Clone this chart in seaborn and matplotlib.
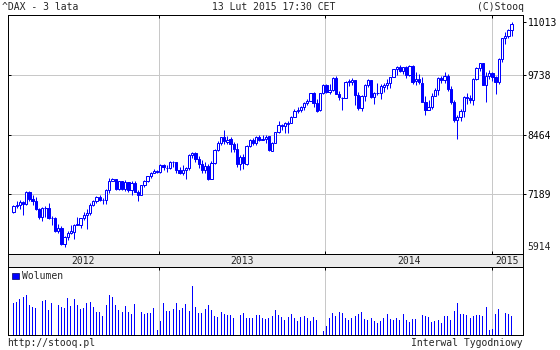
import numpy as np
import pandas as pd
import matplotlib
matplotlib.use("Agg")
import matplotlib.pyplot as plt
import matplotlib.dates as mdates
from matplotlib.patches import Patch
import seaborn as sns

# ---------------- data (weekly DAX, 3 years) ----------------
week_start = "2012-02-17"
week_end = "2015-02-13"

opens = [6700, 6850, 6860, 6920, 6880, 7160, 7000, 6950, 6770, 6580,
         6790, 6800, 6560, 6570, 6270, 6340, 5970, 6130, 6230, 6260,
         6420, 6410, 6560, 6630, 6690, 6870, 6950, 7040, 6975, 6970,
         7210, 7410, 7450, 7220, 7400, 7230, 7380, 7200, 7360, 7160,
         7100, 7310, 7400, 7520, 7600, 7640,
         7610, 7780, 7710, 7700, 7840, 7830, 7650, 7590, 7660, 7710,
         8000, 8040, 7910, 7790, 7660, 7740, 7460, 7810, 8120, 8280,
         8400, 8300, 8350, 8250, 8130, 7790, 7960, 7800, 8210, 8330,
         8280, 8410, 8340, 8370, 8420, 8100, 8280, 8510, 8680, 8660,
         8700, 8730, 8870, 9000, 9010, 9080, 9170, 9230, 9400, 9170,
         9010, 9400,
         9590, 9430, 9470, 9740, 9390, 9290, 9300, 9660, 9660, 9690,
         9350, 9060, 9340, 9590, 9690, 9310, 9410, 9400, 9550, 9580,
         9630, 9770, 9940, 9990, 9910, 9990, 9810, 10010, 9670, 9720,
         9640, 9210, 9010, 9090, 9340, 9470, 9750, 9690, 9800, 9490,
         9190, 8790, 8850, 8990, 9320, 9290, 9250, 9730, 9980, 10080,
         9590, 9790, 9860, 9760, 9650, 10170, 10650, 10690, 10840]

highs = [6860, 6960, 6980, 6950, 7190, 7190, 7080, 7050, 6800, 6810,
         6830, 6900, 6620, 6600, 6440, 6390, 6160, 6280, 6400, 6440,
         6580, 6560, 6700, 6780, 6900, 6980, 7060, 7080, 7020, 7230,
         7480, 7480, 7460, 7400, 7410, 7430, 7390, 7400, 7400, 7200,
         7320, 7430, 7530, 7620, 7680, 7660,
         7800, 7790, 7760, 7860, 7870, 7840, 7720, 7780, 7720, 8020,
         8070, 8060, 7970, 7880, 7830, 7790, 7860, 8140, 8320, 8410,
         8560, 8440, 8400, 8300, 8260, 8000, 8020, 8230, 8360, 8380,
         8430, 8460, 8460, 8450, 8440, 8300, 8510, 8770, 8700, 8740,
         8770, 8880, 9040, 9080, 9120, 9200, 9260, 9410, 9430, 9270,
         9400, 9600,
         9620, 9620, 9760, 9800, 9460, 9310, 9670, 9720, 9740, 9700,
         9420, 9370, 9600, 9720, 9700, 9420, 9630, 9620, 9640, 9720,
         9770, 9950, 10010, 10050, 10000, 10010, 10050, 10030, 9890, 9840,
         9780, 9330, 9250, 9400, 9510, 9760, 9800, 9890, 9830, 9560,
         9240, 8900, 9050, 9340, 9400, 9350, 9740, 10000, 10090, 10090,
         9880, 9930, 9880, 9800, 10200, 10650, 10800, 10850, 11013]

lows = [6680, 6800, 6770, 6630, 6870, 6950, 6860, 6740, 6550, 6500,
        6580, 6540, 6400, 6250, 6220, 5950, 5914, 6070, 6210, 6100,
        6400, 6350, 6520, 6320, 6630, 6850, 6900, 6960, 6890, 6890,
        7140, 7400, 7210, 7200, 7210, 7180, 7150, 7080, 7150, 6950,
        7090, 7270, 7380, 7470, 7580, 7580,
        7600, 7650, 7620, 7680, 7720, 7580, 7560, 7540, 7450, 7660,
        7940, 7830, 7710, 7580, 7590, 7420, 7460, 7800, 8080, 8230,
        8250, 8240, 8060, 8060, 7730, 7650, 7690, 7780, 8190, 8230,
        8220, 8310, 8330, 8270, 8090, 8080, 8260, 8500, 8570, 8500,
        8500, 8720, 8860, 8950, 8970, 9020, 9140, 9220, 9080, 8970,
        8990, 9390,
        9400, 9380, 9460, 9380, 9250, 9020, 9290, 9560, 9580, 9140,
        9020, 9000, 9220, 9550, 9300, 9160, 9360, 9280, 9420, 9500,
        9520, 9760, 9810, 9890, 9830, 9740, 9800, 9610, 9580, 9600,
        9190, 8900, 9010, 9050, 9330, 9370, 9640, 9640, 9450, 9150,
        8750, 8350, 8780, 8860, 9150, 9170, 9140, 9710, 9900, 9580,
        9210, 9720, 9680, 9380, 9600, 10100, 10520, 10650, 10700]

closes = [6848, 6864, 6921, 6880, 7157, 6996, 6947, 6775, 6583, 6801,
          6801, 6561, 6579, 6271, 6339, 5978, 6130, 6229, 6263, 6416,
          6410, 6557, 6630, 6689, 6865, 6945, 7040, 6971, 6970, 7214,
          7412, 7451, 7216, 7398, 7232, 7380, 7203, 7363, 7163, 7101,
          7309, 7405, 7518, 7596, 7636, 7612,
          7776, 7715, 7702, 7833, 7833, 7652, 7593, 7661, 7708, 8003,
          8043, 7912, 7795, 7658, 7744, 7459, 7815, 8122, 8278, 8399,
          8305, 8348, 8254, 8127, 7789, 7959, 7806, 8212, 8331, 8276,
          8410, 8338, 8367, 8416, 8103, 8276, 8510, 8676, 8661, 8725,
          8725, 8868, 9001, 9010, 9078, 9168, 9225, 9405, 9172, 9006,
          9400, 9589,
          9435, 9473, 9742, 9392, 9306, 9301, 9662, 9657, 9692, 9350,
          9056, 9343, 9588, 9695, 9315, 9409, 9401, 9556, 9581, 9630,
          9768, 9943, 9987, 9912, 9987, 9815, 10009, 9666, 9720, 9644,
          9210, 9009, 9092, 9339, 9470, 9747, 9691, 9799, 9490, 9195,
          8788, 8850, 8988, 9326, 9291, 9252, 9732, 9980, 10087, 9594,
          9787, 9865, 9765, 9648, 10167, 10649, 10694, 10846, 10963]

volumes = [320, 333, 363, 380, 403, 300, 280, 273, 290, 340,
           347, 250, 320, 330, 300, 283, 273, 370, 293, 360,
           300, 263, 273, 323, 330, 280, 230, 230, 190, 300,
           403, 380, 300, 247, 227, 290, 233, 213, 313, 320,
           230, 213, 217, 223, 267, 50,
           140, 320, 240, 240, 257, 323, 250, 267, 313, 240,
           490, 283, 220, 220, 257, 303, 253, 190, 183, 230,
           213, 197, 197, 173, 247, 200, 220, 170, 170, 170,
           200, 200, 170, 157, 173, 193, 250, 200, 180, 147,
           180, 213, 173, 140, 180, 193, 173, 140, 180, 147,
           213, 40,
           90, 173, 220, 193, 230, 220, 173, 147, 170, 193,
           213, 233, 160, 147, 170, 140, 120, 140, 173, 213,
           157, 147, 173, 147, 213, 147, 130, 157, 157, 130,
           200, 193, 183, 130, 140, 153, 123, 193, 187, 153,
           240, 323, 213, 213, 203, 173, 193, 203, 203, 193,
           283, 50, 63, 213, 263, 250, 223, 207, 193]

year_starts = ["2013-01-01", "2014-01-01", "2015-01-01"]
year_labels = ["2012", "2013", "2014", "2015"]

title_left = "^DAX - 3 lata"
title_mid = "13 Lut 2015 17:30 CET"
title_right = "(C)Stooq"
footer_left = "http://stooq.pl"
footer_right = "Interwal Tygodniowy"
vol_label = "Wolumen"

# ---------------- style ----------------
sns.set_style("white")
plt.rcParams['font.family'] = ['DejaVu Sans Mono', 'DejaVu Sans']
BLUE = "#0000ff"
GRID = "#c8c8c8"
LW = 0.72
FS = 7

dates = pd.date_range(week_start, week_end, freq="W-FRI")
x = mdates.date2num(dates)
o = np.array(opens, float); h = np.array(highs, float)
l = np.array(lows, float); c = np.array(closes, float)
v = np.array(volumes, float)
yx = mdates.date2num(pd.to_datetime(year_starts))

W, H = 560, 350
fig = plt.figure(figsize=(W / 100, H / 100), dpi=100)
fig.patch.set_facecolor("white")

def box(x0, y0, x1, y1):
    return [x0 / W, 1 - y1 / H, (x1 - x0) / W, (y1 - y0) / H]

ax = fig.add_axes(box(8, 15, 523, 254))
band = fig.add_axes(box(8, 254, 523, 267))
axv = fig.add_axes(box(8, 267, 523, 335))

xlim = (x[0] - 12, x[-1] + 25)

# ---------------- price panel ----------------
lo, hi = l.min(), h.max()
rng = hi - lo
y0, y1 = lo - 0.032 * rng, hi + 0.032 * rng
ax.set_xlim(*xlim)
ax.set_ylim(y0, y1)

qs = [y0 + f * (y1 - y0) for f in (0.25, 0.5, 0.75)]
for q in qs:
    ax.axhline(q, color=GRID, lw=LW, zorder=1)
for yy in yx:
    ax.axvline(yy, color=GRID, lw=LW, zorder=1)

ax.vlines(x, l, h, color=BLUE, lw=LW, zorder=2)
up = c >= o
bot = np.minimum(o, c)
hgt = np.maximum(np.abs(c - o), 12)
ax.bar(x[up], hgt[up], bottom=bot[up], width=5.0, facecolor="white",
       edgecolor=BLUE, linewidth=LW, zorder=3)
ax.bar(x[~up], hgt[~up], bottom=bot[~up], width=5.0, facecolor=BLUE,
       edgecolor=BLUE, linewidth=LW, zorder=3)

labels_vals = np.linspace(lo, hi, 5)
ax.set_xticks([])
ax.yaxis.tick_right()
ax.set_yticks(qs + [hi])
ax.set_yticklabels([f"{np.round(t):.0f}" for t in labels_vals[1:4]] + [f"{hi:.0f}"])
ax.tick_params(axis="y", direction="out", length=2.2, width=LW, pad=1.2,
               labelsize=FS, colors="black")
ax.annotate(f"{lo:.0f}", xy=(1, lo), xycoords=ax.get_yaxis_transform(),
            xytext=(3.4, 0), textcoords="offset points", va="center",
            ha="left", fontsize=FS)
ax.hlines(qs, 0, 3 / 515, transform=ax.get_yaxis_transform(), color="black", lw=LW)
ax.vlines(yx, 0, 3 / 239, transform=ax.get_xaxis_transform(), color="black", lw=LW)
ax.vlines(yx, 1 - 3 / 239, 1, transform=ax.get_xaxis_transform(), color="black", lw=LW)
for s in ax.spines.values():
    s.set_color("black"); s.set_linewidth(LW)

# ---------------- year band ----------------
band.set_facecolor("#ebebeb")
band.set_xlim(*xlim); band.set_ylim(0, 1)
band.set_xticks([]); band.set_yticks([])
bounds = [xlim[0]] + list(yx) + [xlim[1]]
for i, lab in enumerate(year_labels):
    band.text((bounds[i] + bounds[i + 1]) / 2, 0.45, lab, ha="center",
              va="center", fontsize=FS)
for s in band.spines.values():
    s.set_color("black"); s.set_linewidth(LW)

# ---------------- volume panel ----------------
sns.barplot(x=x, y=v, native_scale=True, width=0.3, color=BLUE,
            saturation=1, errorbar=None, linewidth=0, ax=axv)
for p in axv.patches:
    p.set_antialiased(False)
axv.set_xlim(*xlim)
axv.set_ylim(0, 680)
for yy in yx:
    axv.axvline(yy, color=GRID, lw=LW, zorder=0)
axv.vlines(yx, 1 - 3 / 68, 1, transform=axv.get_xaxis_transform(), color="black", lw=LW)
axv.set_xticks([]); axv.set_yticks([])
axv.set_xlabel(""); axv.set_ylabel("")
for s in axv.spines.values():
    s.set_color("black"); s.set_linewidth(LW)
axv.legend(handles=[Patch(facecolor=BLUE, edgecolor="#000060", linewidth=0.5,
                          label=vol_label)],
           loc="upper left", frameon=False, fontsize=FS, handlelength=0.7,
           handleheight=0.7, handletextpad=0.3, borderaxespad=0.25,
           borderpad=0.2)

# ---------------- header / footer ----------------
fig.text(2 / W, 1 - 7 / H, title_left, ha="left", va="center", fontsize=FS)
fig.text(274 / W, 1 - 7 / H, title_mid, ha="center", va="center", fontsize=FS)
fig.text(524 / W, 1 - 7 / H, title_right, ha="right", va="center", fontsize=FS)
fig.text(7 / W, 1 - 343 / H, footer_left, ha="left", va="center", fontsize=FS)
fig.text(523 / W, 1 - 343 / H, footer_right, ha="right", va="center", fontsize=FS)

fig.savefig("out.png", dpi=100, facecolor="white")
